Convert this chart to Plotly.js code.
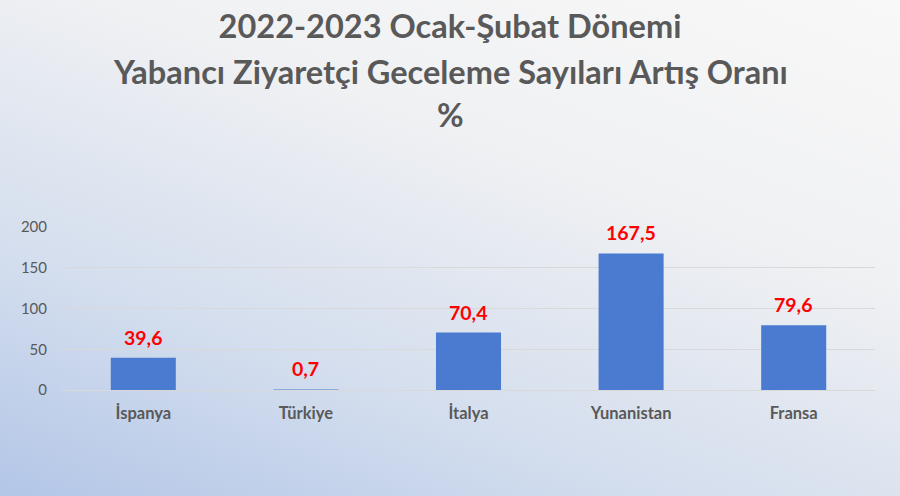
<!DOCTYPE html>
<html>
<head>
<meta charset="utf-8">
<script src="https://cdn.plot.ly/plotly-3.0.1.min.js"></script>
<style>
  html, body { margin: 0; padding: 0; }
  #chart {
    width: 900px; height: 496px;
    background: linear-gradient(200deg, #f8f8f8 0%, #f0f1f3 35%, #d4deee 70%, #b3c6e7 100%);
  }
</style>
</head>
<body>
<div id="chart"></div>
<script>
const titleLines = [
  "2022-2023 Ocak-Şubat Dönemi",
  "Yabancı Ziyaretçi Geceleme Sayıları Artış Oranı",
  "%"
];
const categories = ["İspanya", "Türkiye", "İtalya", "Yunanistan", "Fransa"];
const values = [39.6, 0.7, 70.4, 167.5, 79.6];
const valueLabels = ["39,6", "0,7", "70,4", "167,5", "79,6"];
const yTickVals = [0, 50, 100, 150, 200];
const yTickText = ["0", "50", "100", "150", "200"];

const FONT = "Lato, 'Noto Sans', sans-serif";
const GREY = "#595959";
const TITLE_SIZE = 32.5;

const trace = {
  type: "bar",
  x: categories,
  y: values,
  marker: { color: "#4a7bd0" },
  hoverinfo: "x+y",
  showlegend: false
};

const labelAnnotations = categories.map((c, i) => ({
  x: c, y: values[i], xref: "x", yref: "y",
  text: "<b>" + valueLabels[i] + "</b>",
  showarrow: false, yanchor: "bottom", yshift: 7,
  font: { family: FONT, size: 19.5, color: "#ff0000" }
}));

const plotL = 62, plotR = 875, plotT = 227, plotB = 390;
function px2paperX(px) { return (px - plotL) / (plotR - plotL); }
function px2paperY(py) { return (plotB - py) / (plotB - plotT); }
const extraTitle = [
  { text: titleLines[1], py: 71 },
  { text: titleLines[2], py: 114 }
].map(t => ({
  xref: "paper", yref: "paper",
  x: px2paperX(450), y: px2paperY(t.py),
  xanchor: "center", yanchor: "middle",
  text: "<b>" + t.text + "</b>",
  showarrow: false,
  font: { family: FONT, size: TITLE_SIZE, color: GREY }
}));

const layout = {
  width: 900, height: 496,
  paper_bgcolor: "rgba(0,0,0,0)",
  plot_bgcolor: "rgba(0,0,0,0)",
  margin: { l: plotL, r: 900 - plotR, t: plotT, b: 496 - plotB },
  bargap: 0.6,
  title: {
    text: "<b>" + titleLines[0] + "</b>",
    xref: "container", x: 0.5, xanchor: "center",
    yref: "container", y: 1 - 27 / 496, yanchor: "middle",
    font: { family: FONT, size: TITLE_SIZE, color: GREY }
  },
  xaxis: {
    type: "category",
    tickfont: { family: FONT, size: 16.5, color: GREY, weight: "bold" },
    ticks: "", ticklabelstandoff: 11,
    showline: false, showgrid: false, zeroline: false
  },
  yaxis: {
    range: [0, 200],
    tickvals: yTickVals, ticktext: yTickText,
    tickfont: { family: FONT, size: 15, color: GREY },
    ticks: "", ticklabelstandoff: 14,
    showgrid: true, gridcolor: "#d9d9d9", gridwidth: 1,
    zeroline: true, zerolinecolor: "#d9d9d9", zerolinewidth: 1,
    showline: false, fixedrange: true
  },
  annotations: labelAnnotations.concat(extraTitle)
};

Plotly.newPlot("chart", [trace], layout, { displayModeBar: false, staticPlot: true });
</script>
</body>
</html>
